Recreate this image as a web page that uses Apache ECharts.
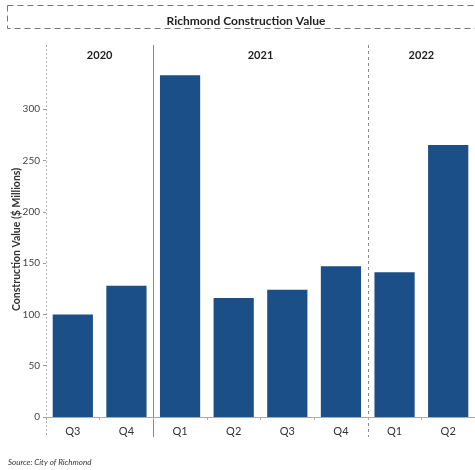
<!DOCTYPE html>
<html>
<head>
<meta charset="utf-8">
<script src="https://cdn.jsdelivr.net/npm/echarts@6/dist/echarts.min.js"></script>
<style>
  html, body { margin: 0; padding: 0; background: #fff; }
  #chart { width: 475px; height: 470px; }
</style>
</head>
<body>
<div id="chart"></div>
<script>
// Quarterly construction value, City of Richmond ($ millions)
const quarters = ['Q3', 'Q4', 'Q1', 'Q2', 'Q3', 'Q4', 'Q1', 'Q2'];
const values = [100, 128, 333, 116, 124, 147, 141, 265];
const years = ['2020', '2021', '2022'];
const quartersPerYear = [2, 4, 2];
const yTickStep = 50;
const yTop = 346;

// Year header centres and pane boundaries, in quarter units
const yearCenters = [];
const paneEdges = [0];
let acc = 0;
quartersPerYear.forEach(n => {
  yearCenters.push(acc + n / 2);
  acc += n;
  paneEdges.push(acc);
});

const FONT = 'Lato, "Open Sans", sans-serif';
const chart = echarts.init(document.getElementById('chart'));

chart.setOption({
  backgroundColor: '#fff',
  animation: false,
  title: {
    text: 'Richmond Construction Value',
    left: 241,
    textAlign: 'center',
    top: 10,
    textStyle: { fontFamily: FONT, fontSize: 12, fontWeight: 'bold', color: '#222' }
  },
  grid: { left: 46, right: 0, top: 62, bottom: 53, containLabel: false, outerBoundsMode: 'none' },
  xAxis: [
    {
      type: 'category',
      data: quarters,
      position: 'bottom',
      axisLine: { show: true, lineStyle: { color: '#aaa', width: 1 } },
      axisTick: { show: true, length: 3, lineStyle: { color: '#aaa' } },
      axisLabel: { fontFamily: FONT, fontSize: 11, color: '#333', margin: 9 },
      splitLine: { show: false }
    },
    {
      type: 'value',
      position: 'top',
      min: 0,
      max: quarters.length,
      interval: 1,
      axisLine: { show: false },
      axisTick: { show: false },
      splitLine: { show: false },
      axisLabel: {
        margin: 1,
        fontFamily: FONT,
        fontSize: 11,
        fontWeight: 'bold',
        color: '#222',
        showMinLabel: true,
        showMaxLabel: true,
        formatter: v => {
          const i = yearCenters.indexOf(v);
          return i >= 0 ? years[i] : '';
        }
      }
    }
  ],
  yAxis: {
    type: 'value',
    min: 0,
    max: yTop,
    interval: yTickStep,
    name: 'Construction Value ($ Millions)',
    nameLocation: 'middle',
    nameGap: 24,
    nameMoveOverlap: false,
    nameTextStyle: { fontFamily: FONT, fontSize: 10.5, fontWeight: 'bold', color: '#333' },
    axisLine: { show: false },
    axisTick: { show: true, length: 3, lineStyle: { color: '#999' } },
    axisLabel: {
      fontFamily: FONT, fontSize: 10, color: '#444', margin: 6,
      showMaxLabel: false,
      formatter: v => (v % yTickStep === 0 ? String(v) : '')
    },
    splitLine: { show: false }
  },
  series: [
    {
      type: 'bar',
      data: values,
      xAxisIndex: 0,
      barCategoryGap: '25%',
      itemStyle: { color: '#1b4f88' }
    }
  ]
});

// Pane dividers and the frame around the title
function drawDecor() {
  const styles = [
    { stroke: '#b0b0b0', lineDash: [2, 2] },
    { stroke: '#8a8a8a', lineDash: null },
    { stroke: '#8a8a8a', lineDash: [3, 3] },
    { stroke: '#b0b0b0', lineDash: [2, 2] }
  ];
  const elements = [];
  paneEdges.slice(0, -1).forEach((edge, i) => {
    const x = Math.round(chart.convertToPixel({ xAxisIndex: 1 }, edge)) + 0.5;
    elements.push({
      type: 'line',
      silent: true,
      shape: { x1: x, y1: 45, x2: x, y2: 437 },
      style: Object.assign({ lineWidth: 1 }, styles[i])
    });
  });
  elements.push({
    type: 'rect',
    silent: true,
    shape: { x: 7.5, y: 5.5, width: 480, height: 23 },
    style: { fill: 'none', stroke: '#777', lineWidth: 1, lineDash: [6, 4] }
  });
  elements.push({
    type: 'text',
    silent: true,
    left: 8,
    top: 458,
    style: {
      text: 'Source: City of Richmond',
      fontFamily: FONT,
      fontSize: 8,
      fontStyle: 'italic',
      fill: '#333'
    }
  });
  chart.setOption({ graphic: { elements } });
}
drawDecor();
</script>
</body>
</html>
